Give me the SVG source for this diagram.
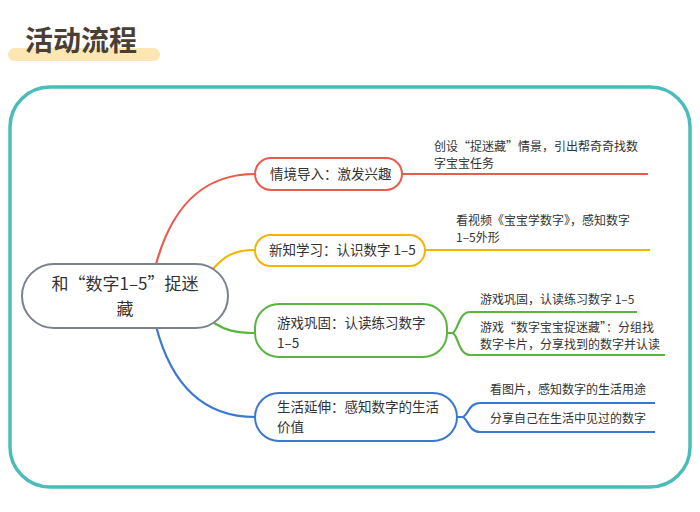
<svg xmlns="http://www.w3.org/2000/svg" width="700" height="512" viewBox="0 0 700 512">
<style>
text{font-family:"Noto Sans CJK SC","Noto Sans",sans-serif;fill:#333}
.n{fill:#fff;stroke-width:2}
.t{font-size:13.5px}
.s{font-size:12px}
.c path{fill:none;stroke-width:2.2}
</style>
<rect width="700" height="512" fill="#fff"/>
<rect x="8" y="48" width="152" height="13" rx="6.5" fill="#fbe6b4"/>
<text x="25" y="51" font-size="28" font-weight="bold" style="fill:#4a3f35">活动流程</text>
<rect x="10" y="87" width="680" height="400" rx="40" fill="none" stroke="#4cbcb8" stroke-width="3.5"/>
<g class="c">
<path d="M155 268 C170 210 200 174 255 174" stroke="#ec5a4e" stroke-width="3"/>
<path d="M402 174 H648" stroke="#ec5a4e"/>
<path d="M212 270 C225 255 235 250 255 250" stroke="#f5b400"/>
<path d="M425 250 H650" stroke="#f5b400"/>
<path d="M214 323 C225 330 235 333 255 333" stroke="#5ab540"/>
<path d="M447 333 H452 C458 333 458 312 470 312 H637 M452 333 C458 333 458 355 470 355 H665" stroke="#5ab540"/>
<path d="M156 326 C170 380 200 417 255 417" stroke="#3b78d0"/>
<path d="M457 417 H462 C468 417 468 403 480 403 H655 M462 417 C468 417 468 432 480 432 H655" stroke="#3b78d0"/>
</g>
<g id="root"><rect class="n" x="22" y="264" width="206" height="64" rx="32" stroke="#7a8290"/>
<text x="125" y="290" font-size="17" text-anchor="middle">和“数字1–5”捉迷</text>
<text x="125" y="315" font-size="17" text-anchor="middle">藏</text></g>
<g id="b1"><rect class="n" x="255" y="158" width="147" height="32" rx="16" stroke="#ec5a4e"/>
<text class="t" x="270" y="179">情境导入：激发兴趣</text>
<text class="s" x="434" y="151">创设“捉迷藏”情景，引出帮奇奇找数</text>
<text class="s" x="434" y="168">字宝宝任务</text></g>
<g id="b2"><rect class="n" x="255" y="235" width="170" height="31" rx="15.5" stroke="#f5b400"/>
<text class="t" x="269" y="255">新知学习：认识数字 1–5</text>
<text class="s" x="456" y="225">看视频《宝宝学数字》，感知数字</text>
<text class="s" x="456" y="242">1–5外形</text></g>
<g id="b3"><rect class="n" x="255" y="304" width="192" height="53" rx="24" stroke="#5ab540"/>
<text class="t" x="277" y="328">游戏巩固：认读练习数字</text>
<text class="t" x="277" y="348">1–5</text>
<text class="s" x="480" y="304">游戏巩固，认读练习数字 1–5</text>
<text class="s" x="480" y="332">游戏“数字宝宝捉迷藏”：分组找</text>
<text class="s" x="480" y="349">数字卡片，分享找到的数字并认读</text></g>
<g id="b4"><rect class="n" x="255" y="393" width="202" height="48" rx="24" stroke="#3b78d0"/>
<text class="t" x="277" y="412">生活延伸：感知数字的生活</text>
<text class="t" x="277" y="432">价值</text>
<text class="s" x="490" y="394">看图片，感知数字的生活用途</text>
<text class="s" x="490" y="423">分享自己在生活中见过的数字</text></g>
</svg>
